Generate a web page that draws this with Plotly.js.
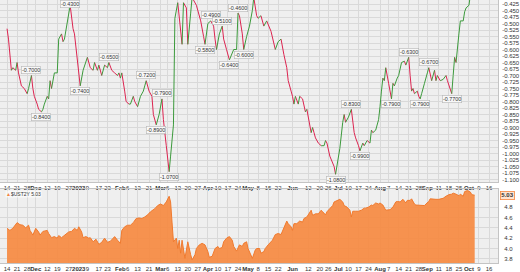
<!DOCTYPE html>
<html><head><meta charset="utf-8">
<script src="https://cdn.plot.ly/plotly-3.0.1.min.js"></script>
<style>html,body{margin:0;padding:0;background:#fff}#chart{width:520px;height:272px}</style>
</head><body><div id="chart"></div>
<script>
// 10Y-2Y spread (top panel)
const spreadDates = ['2022-11-14','2022-11-15','2022-11-17','2022-11-18','2022-11-20','2022-11-21','2022-11-22','2022-11-24','2022-11-26','2022-11-28','2022-11-29','2022-12-01','2022-12-02','2022-12-03','2022-12-05','2022-12-06','2022-12-08','2022-12-09','2022-12-10','2022-12-12','2022-12-13','2022-12-14','2022-12-15','2022-12-17','2022-12-19','2022-12-20','2022-12-22','2022-12-23','2022-12-24','2022-12-28','2022-12-30','2022-12-31','2023-01-04','2023-01-06','2023-01-09','2023-01-11','2023-01-13','2023-01-14','2023-01-16','2023-01-17','2023-01-19','2023-01-21','2023-01-23','2023-01-24','2023-01-26','2023-01-28','2023-01-30','2023-01-31','2023-02-01','2023-02-02','2023-02-04','2023-02-05','2023-02-07','2023-02-08','2023-02-10','2023-02-11','2023-02-13','2023-02-15','2023-02-17','2023-02-18','2023-02-19','2023-02-21','2023-02-23','2023-02-24','2023-02-26','2023-02-28','2023-03-02','2023-03-03','2023-03-05','2023-03-07','2023-03-08','2023-03-10','2023-03-11','2023-03-13','2023-03-16','2023-03-17','2023-03-19','2023-03-20','2023-03-22','2023-03-23','2023-03-26','2023-03-29','2023-03-31','2023-04-01','2023-04-03','2023-04-05','2023-04-07','2023-04-08','2023-04-09','2023-04-11','2023-04-13','2023-04-14','2023-04-16','2023-04-18','2023-04-21','2023-04-23','2023-04-24','2023-04-25','2023-04-27','2023-04-28','2023-04-30','2023-05-02','2023-05-04','2023-05-05','2023-05-07','2023-05-08','2023-05-10','2023-05-12','2023-05-14','2023-05-17','2023-05-20','2023-05-22','2023-05-24','2023-05-26','2023-05-28','2023-05-29','2023-05-31','2023-06-01','2023-06-02','2023-06-03','2023-06-05','2023-06-06','2023-06-08','2023-06-10','2023-06-11','2023-06-14','2023-06-15','2023-06-16','2023-06-17','2023-06-19','2023-06-21','2023-06-23','2023-06-24','2023-06-25','2023-06-27','2023-06-30','2023-07-01','2023-07-04','2023-07-06','2023-07-07','2023-07-08','2023-07-10','2023-07-12','2023-07-14','2023-07-15','2023-07-17','2023-07-18','2023-07-20','2023-07-21','2023-07-23','2023-07-25','2023-07-26','2023-07-27','2023-07-29','2023-07-31','2023-08-01','2023-08-02','2023-08-03','2023-08-04','2023-08-05','2023-08-07','2023-08-09','2023-08-10','2023-08-11','2023-08-13','2023-08-14','2023-08-16','2023-08-18','2023-08-19','2023-08-21','2023-08-22','2023-08-23','2023-08-24','2023-08-25','2023-08-27','2023-08-28','2023-08-29','2023-08-30','2023-09-01','2023-09-03','2023-09-04','2023-09-06','2023-09-08','2023-09-09','2023-09-10','2023-09-12','2023-09-14','2023-09-16','2023-09-17','2023-09-20','2023-09-21','2023-09-22','2023-09-23','2023-09-25','2023-09-26','2023-09-28','2023-09-29','2023-09-30','2023-10-02','2023-10-03'];
const spreadValues = [-0.52,-0.56,-0.68,-0.67,-0.68,-0.65,-0.69,-0.74,-0.75,-0.77,-0.75,-0.70,-0.75,-0.78,-0.81,-0.83,-0.84,-0.83,-0.81,-0.78,-0.79,-0.72,-0.75,-0.69,-0.69,-0.56,-0.54,-0.57,-0.56,-0.43,-0.52,-0.54,-0.74,-0.68,-0.63,-0.67,-0.68,-0.65,-0.68,-0.66,-0.70,-0.66,-0.67,-0.65,-0.68,-0.69,-0.70,-0.69,-0.71,-0.69,-0.76,-0.80,-0.81,-0.81,-0.78,-0.80,-0.82,-0.78,-0.76,-0.74,-0.72,-0.76,-0.78,-0.85,-0.89,-0.85,-0.79,-0.87,-0.97,-1.07,-1.01,-0.89,-0.48,-0.42,-0.58,-0.42,-0.44,-0.58,-0.46,-0.40,-0.43,-0.49,-0.55,-0.58,-0.50,-0.49,-0.51,-0.56,-0.60,-0.54,-0.51,-0.56,-0.60,-0.64,-0.60,-0.60,-0.46,-0.47,-0.54,-0.60,-0.55,-0.51,-0.45,-0.40,-0.47,-0.48,-0.47,-0.51,-0.49,-0.53,-0.60,-0.57,-0.56,-0.62,-0.67,-0.72,-0.76,-0.78,-0.81,-0.78,-0.81,-0.78,-0.79,-0.84,-0.83,-0.92,-0.90,-0.92,-0.94,-0.96,-0.97,-0.97,-0.95,-0.96,-1.01,-1.05,-1.08,-0.98,-0.88,-0.85,-0.88,-0.86,-0.83,-0.92,-0.94,-0.97,-0.99,-0.96,-0.97,-0.95,-0.96,-0.91,-0.92,-0.91,-0.87,-0.82,-0.76,-0.71,-0.72,-0.67,-0.73,-0.79,-0.73,-0.74,-0.71,-0.70,-0.65,-0.645,-0.66,-0.63,-0.70,-0.76,-0.75,-0.77,-0.76,-0.78,-0.79,-0.77,-0.73,-0.69,-0.67,-0.72,-0.68,-0.72,-0.70,-0.72,-0.715,-0.70,-0.72,-0.77,-0.70,-0.63,-0.65,-0.54,-0.49,-0.49,-0.455,-0.44,-0.43,-0.39];

// high/low callouts on the spread line
const calloutDates = ['2022-12-01','2022-12-08','2022-12-28','2023-01-04','2023-01-24','2023-02-19','2023-02-26','2023-03-02','2023-03-07','2023-04-01','2023-04-05','2023-04-13','2023-04-18','2023-04-24','2023-04-28','2023-07-01','2023-07-12','2023-07-18','2023-08-09','2023-08-21','2023-08-29','2023-09-04','2023-09-20'];

// 2-year yield (bottom panel)
const yieldDates = ['2022-11-14','2022-11-16','2022-11-18','2022-11-20','2022-11-21','2022-11-23','2022-11-25','2022-11-27','2022-11-29','2022-11-30','2022-12-02','2022-12-04','2022-12-06','2022-12-07','2022-12-09','2022-12-12','2022-12-13','2022-12-15','2022-12-17','2022-12-19','2022-12-20','2022-12-22','2022-12-24','2022-12-27','2022-12-29','2022-12-31','2023-01-02','2023-01-03','2023-01-05','2023-01-06','2023-01-08','2023-01-10','2023-01-11','2023-01-13','2023-01-15','2023-01-17','2023-01-19','2023-01-21','2023-01-23','2023-01-25','2023-01-27','2023-01-28','2023-01-30','2023-02-01','2023-02-02','2023-02-04','2023-02-06','2023-02-08','2023-02-10','2023-02-12','2023-02-14','2023-02-16','2023-02-18','2023-02-20','2023-02-22','2023-02-24','2023-02-25','2023-02-27','2023-03-01','2023-03-03','2023-03-05','2023-03-07','2023-03-08','2023-03-09','2023-03-10','2023-03-12','2023-03-13','2023-03-14','2023-03-15','2023-03-16','2023-03-18','2023-03-19','2023-03-20','2023-03-22','2023-03-23','2023-03-25','2023-03-26','2023-03-28','2023-03-30','2023-04-01','2023-04-03','2023-04-04','2023-04-06','2023-04-08','2023-04-10','2023-04-11','2023-04-13','2023-04-14','2023-04-16','2023-04-18','2023-04-20','2023-04-21','2023-04-23','2023-04-25','2023-04-27','2023-04-28','2023-04-30','2023-05-01','2023-05-03','2023-05-04','2023-05-06','2023-05-07','2023-05-09','2023-05-10','2023-05-12','2023-05-13','2023-05-15','2023-05-18','2023-05-20','2023-05-22','2023-05-24','2023-05-26','2023-05-28','2023-05-29','2023-05-31','2023-06-01','2023-06-02','2023-06-04','2023-06-06','2023-06-08','2023-06-09','2023-06-11','2023-06-13','2023-06-14','2023-06-15','2023-06-17','2023-06-19','2023-06-21','2023-06-22','2023-06-24','2023-06-25','2023-06-27','2023-06-29','2023-06-30','2023-07-02','2023-07-04','2023-07-06','2023-07-07','2023-07-09','2023-07-11','2023-07-12','2023-07-13','2023-07-15','2023-07-17','2023-07-19','2023-07-21','2023-07-22','2023-07-24','2023-07-26','2023-07-27','2023-07-29','2023-07-31','2023-08-01','2023-08-03','2023-08-05','2023-08-06','2023-08-08','2023-08-10','2023-08-12','2023-08-13','2023-08-15','2023-08-17','2023-08-19','2023-08-20','2023-08-22','2023-08-23','2023-08-25','2023-08-26','2023-08-28','2023-08-30','2023-09-01','2023-09-02','2023-09-04','2023-09-05','2023-09-07','2023-09-09','2023-09-11','2023-09-12','2023-09-14','2023-09-16','2023-09-18','2023-09-20','2023-09-21','2023-09-23','2023-09-25','2023-09-26','2023-09-28','2023-09-29','2023-10-01','2023-10-03','2023-10-04','2023-10-06'];
const yieldValues = [4.39,4.35,4.39,4.48,4.50,4.46,4.45,4.40,4.45,4.35,4.26,4.39,4.32,4.26,4.33,4.35,4.29,4.21,4.23,4.20,4.25,4.21,4.26,4.32,4.33,4.39,4.35,4.42,4.32,4.21,4.23,4.20,4.21,4.13,4.18,4.08,4.12,4.20,4.12,4.14,4.20,4.23,4.16,4.10,4.35,4.42,4.45,4.45,4.50,4.58,4.59,4.58,4.61,4.65,4.71,4.74,4.77,4.83,4.86,4.83,4.90,5.01,4.90,4.51,4.13,4.20,4.00,4.16,3.91,4.16,3.81,3.97,4.13,3.88,3.78,3.88,4.00,4.07,4.10,4.07,3.94,3.83,3.85,4.00,4.04,4.00,4.02,4.13,4.20,4.23,4.16,4.04,3.95,4.07,4.04,4.10,4.13,4.00,3.85,3.81,3.97,4.00,4.00,3.91,3.94,4.00,4.07,4.16,4.27,4.29,4.27,4.39,4.53,4.48,4.42,4.35,4.48,4.48,4.53,4.51,4.58,4.61,4.71,4.74,4.64,4.67,4.67,4.74,4.71,4.65,4.71,4.77,4.83,4.90,4.93,4.95,4.90,4.83,4.80,4.74,4.61,4.72,4.72,4.72,4.74,4.78,4.78,4.80,4.84,4.83,4.88,4.86,4.88,4.84,4.74,4.74,4.75,4.80,4.90,4.91,4.90,4.95,4.88,4.93,4.93,4.96,4.86,4.84,4.84,4.83,4.83,4.86,4.91,4.96,4.95,4.95,4.95,4.96,4.97,5.01,5.04,5.05,5.07,5.05,5.02,5.05,5.01,5.10,5.12,5.09,5.04,5.03];

const spreadTickLabels = ['-0.425','-0.450','-0.475','-0.500','-0.525','-0.550','-0.575','-0.600','-0.625','-0.650','-0.675','-0.700','-0.725','-0.750','-0.775','-0.800','-0.825','-0.850','-0.875','-0.900','-0.925','-0.950','-0.975','-1.000','-1.025','-1.050','-1.075','-1.100'];
const yieldTickLabels = ['3.8','4.0','4.2','4.4','4.6','4.8'];
const xTickDates = ['2022-11-14','2022-11-21','2022-11-28','2022-12-04','2022-12-12','2022-12-19','2022-12-27','2023-01-03','2023-01-09','2023-01-17','2023-01-23','2023-02-01','2023-02-06','2023-02-13','2023-02-21','2023-03-01','2023-03-06','2023-03-13','2023-03-20','2023-03-27','2023-04-03','2023-04-10','2023-04-17','2023-04-24','2023-05-01','2023-05-08','2023-05-15','2023-05-22','2023-06-01','2023-06-12','2023-06-20','2023-06-26','2023-07-03','2023-07-10','2023-07-17','2023-07-24','2023-08-01','2023-08-07','2023-08-14','2023-08-21','2023-08-28','2023-09-03','2023-09-11','2023-09-18','2023-09-25','2023-10-02','2023-10-09','2023-10-16'];
const xTickLabels = ['14','21','28','Dec','12','19','27','2023','9','17','23','Feb','6','13','21','Mar','6','13','20','27','Apr','10','17','24','May','8','15','22','Jun','12','20','26','Jul','10','17','24','Aug','7','14','21','28','Sep','11','18','25','Oct','9','16'];
const seriesName = '$UST2Y';

// ---- build ----
const RED = '#dc2450', GREEN = '#3c9a3c', ORANGE = '#f5863f';
const redX = [], redY = [], grnX = [], grnY = [];
for (let i = 1; i < spreadValues.length; i++) {
  const down = spreadValues[i] < spreadValues[i-1];
  const X = down ? redX : grnX, Y = down ? redY : grnY;
  X.push(spreadDates[i-1], spreadDates[i], null);
  Y.push(spreadValues[i-1], spreadValues[i], null);
}
const tickText = xTickLabels.map(t => /^[A-Za-z]|^\d{4}$/.test(t) ? '<b>' + t + '</b>' : t);
const font = {family: 'Liberation Sans, Arial, sans-serif', size: 6, color: '#333'};

const yRange = [-1.1096, -0.4096];
const panelPx = 182;
const pxPerUnit = panelPx / (yRange[1] - yRange[0]);
const annotations = calloutDates.map(d => {
  const i = spreadDates.indexOf(d);
  const v = spreadValues[i];
  const prev = spreadValues[i-1], next = spreadValues[i+1];
  const peak = v >= prev && v >= next;
  let shift = peak ? 5.5 : -5.5;
  if (peak) shift = Math.min(shift, (yRange[1] - v) * pxPerUnit - 3.6);  // keep box inside the panel
  return {x: d, y: v, xref: 'x', yref: 'y', text: v.toFixed(4), showarrow: false,
    yshift: shift, font: {family: font.family, size: 5.4, color: '#333'},
    bgcolor: '#f8f8f8', bordercolor: '#b5b5b5', borderwidth: 0.6, borderpad: 0.4};
});
const lastY = yieldValues[yieldValues.length-1];
annotations.push({xref: 'paper', yref: 'y2', x: 1, y: lastY, xanchor: 'left', xshift: 2,
  text: '<b>' + lastY.toFixed(2) + '</b>', showarrow: false, font: {family: font.family, size: 6, color: '#333'},
  bgcolor: '#fde3d0', bordercolor: ORANGE, borderwidth: 0.8, borderpad: 0.5});
annotations.push({xref: 'paper', yref: 'paper', x: 0.01, y: 0.278, xanchor: 'left', yanchor: 'top',
  text: '<span style="color:' + ORANGE + '">▲</span>' + seriesName + ' ' + lastY.toFixed(2), showarrow: false,
  font: {family: font.family, size: 5, color: '#333'}, bgcolor: 'rgba(255,255,255,0.6)', borderpad: 0});

const traces = [
  {x: redX, y: redY, type: 'scatter', mode: 'lines', line: {color: RED, width: 1}, connectgaps: false, hoverinfo: 'skip', xaxis: 'x', yaxis: 'y'},
  {x: grnX, y: grnY, type: 'scatter', mode: 'lines', line: {color: GREEN, width: 1}, connectgaps: false, hoverinfo: 'skip', xaxis: 'x', yaxis: 'y'},
  {x: yieldDates, y: yieldValues, type: 'scatter', mode: 'lines', fill: 'tozeroy', fillcolor: 'rgba(246,140,70,0.95)', line: {color: '#f07a2e', width: 1}, xaxis: 'x2', yaxis: 'y2', hoverinfo: 'skip'}
];
const xr = ['2022-11-09 02:00', '2023-10-22 06:00'];
const xbase = {type: 'date', range: xr, tickmode: 'array', tickvals: xTickDates, ticktext: tickText, tickangle: 0,
  showgrid: true, gridcolor: '#d9d9d9', gridwidth: 1, tickfont: font, ticks: '', ticklabelstandoff: 0,
  showline: true, linecolor: '#c4c4c4', mirror: true, zeroline: false, fixedrange: true, automargin: false};
// plot area: 263 px tall (t=0, b=9); top panel 0-182, bottom panel 189-263
const layout = {
  width: 520, height: 272, margin: {l: 0, r: 22, t: 0, b: 9},
  paper_bgcolor: '#ffffff', plot_bgcolor: '#efefef', showlegend: false,
  xaxis: Object.assign({}, xbase, {anchor: 'y'}),
  xaxis2: Object.assign({}, xbase, {anchor: 'y2', matches: 'x'}),
  yaxis: {domain: [0.308, 1], range: yRange, side: 'right', tickmode: 'array',
    tickvals: spreadTickLabels.map(Number), ticktext: spreadTickLabels, tickfont: font, automargin: false,
    showgrid: true, gridcolor: '#d9d9d9', zeroline: false, showline: true, linecolor: '#c4c4c4', mirror: true, ticks: '', ticklabelstandoff: 2},
  yaxis2: {domain: [0, 0.2814], range: [3.72, 5.15], side: 'right', tickmode: 'array', automargin: false,
    tickvals: yieldTickLabels.map(Number), ticktext: yieldTickLabels, tickfont: font,
    showgrid: true, gridcolor: '#d9d9d9', zeroline: false, showline: true, linecolor: '#c4c4c4', mirror: true, ticks: '', ticklabelstandoff: 4},
  annotations: annotations
};
Plotly.newPlot('chart', traces, layout, {staticPlot: true, displayModeBar: false});
</script></body></html>
